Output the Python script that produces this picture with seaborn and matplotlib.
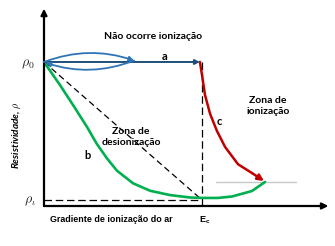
import matplotlib
matplotlib.use("Agg")
import matplotlib.pyplot as plt
import seaborn as sns
import pandas as pd

# ---- data (x: gradient, Ec = 1 ; y: resistivity, rho0 = 1) ----
rho0 = 1.0
rhoi = 0.042
Ec = 1.0
b_x = [0.0, 0.101, 0.184, 0.272, 0.335, 0.399, 0.462, 0.563, 0.671, 0.797, 0.924, 1.0,
       1.101, 1.19, 1.316, 1.399]
b_y = [1.0, 0.840, 0.701, 0.549, 0.430, 0.330, 0.245, 0.158, 0.106, 0.076, 0.059, 0.056,
       0.056, 0.066, 0.104, 0.167]
c_x = [0.987, 1.0, 1.019, 1.051, 1.095, 1.146, 1.228, 1.316, 1.392]
c_y = [1.0, 0.910, 0.771, 0.640, 0.520, 0.410, 0.290, 0.229, 0.174]
gray_x = [1.089, 1.595]
gray_y = [0.167, 0.167]
a_end = 0.987
loop_end = 0.57

sns.set_style("white")
plt.rcParams['font.family'] = ['Lato', 'DejaVu Sans']
plt.rcParams['mathtext.fontset'] = 'cm'
plt.rcParams['lines.solid_joinstyle'] = 'round'
plt.rcParams['lines.solid_capstyle'] = 'round'

fig = plt.figure(figsize=(3.35, 2.46), dpi=100)
ax = fig.add_axes([44/335, 40/246, 284.4/335, 197.3/246])
ax.set_xlim(0, 1.8)
ax.set_ylim(0, 1.37)
for s in ax.spines.values():
    s.set_visible(False)
ax.set_xticks([])
ax.set_yticks([])

# axes arrows
ax.annotate("", xy=(1.8, 0), xytext=(0, 0), xycoords='data',
            arrowprops=dict(arrowstyle='-|>', color='black', lw=1.6,
                            mutation_scale=9, shrinkA=0, shrinkB=0),
            annotation_clip=False)
ax.annotate("", xy=(0, 1.37), xytext=(0, 0), xycoords='data',
            arrowprops=dict(arrowstyle='-|>', color='black', lw=1.6,
                            mutation_scale=9, shrinkA=0, shrinkB=0),
            annotation_clip=False)

# dashed guides
ax.plot([0, Ec], [rho0, rhoi], ls=(0, (5, 3)), color='black', lw=0.9)
ax.plot([Ec, Ec], [rho0, 0], ls=(0, (6, 3)), color='black', lw=0.9)
ax.plot([0, Ec], [rhoi, rhoi], ls=(0, (6, 3)), color='black', lw=0.9)

# gray line
sns.lineplot(x=gray_x, y=gray_y, ax=ax, color='#C8C8C8', lw=1.0, sort=False)

# curve b (green)
sns.lineplot(data=pd.DataFrame({'x': b_x, 'y': b_y}), x='x', y='y', ax=ax,
             color='#00B050', lw=1.9, sort=False)

# curve c (red)
sns.lineplot(data=pd.DataFrame({'x': c_x[:-1], 'y': c_y[:-1]}), x='x', y='y', ax=ax,
             color='#C00000', lw=1.8, sort=False)
ax.annotate("", xy=(c_x[-1], c_y[-1]), xytext=(c_x[-2], c_y[-2]),
            arrowprops=dict(arrowstyle='-|>', color='#C00000', lw=1.8,
                            mutation_scale=9, shrinkA=0, shrinkB=0))

# line a (blue)
ax.annotate("", xy=(a_end, rho0), xytext=(0, rho0),
            arrowprops=dict(arrowstyle='-|>', color='#1F4E79', lw=1.4,
                            mutation_scale=7, shrinkA=0, shrinkB=0))

# loop (ellipse with arrows)
ax.annotate("", xy=(loop_end, rho0 + 0.01), xytext=(0, rho0),
            arrowprops=dict(arrowstyle='-|>', color='#2E75B6', lw=1.3,
                            mutation_scale=7, shrinkA=0, shrinkB=0,
                            connectionstyle='arc3,rad=-0.18'))
ax.annotate("", xy=(0.01, rho0 - 0.005), xytext=(loop_end, rho0 + 0.01),
            arrowprops=dict(arrowstyle='-|>', color='#2E75B6', lw=1.3,
                            mutation_scale=7, shrinkA=0, shrinkB=0,
                            connectionstyle='arc3,rad=-0.18'))

# texts
bold = dict(fontweight='bold', color='black')
ax.text(0.69, 1.18, "Não ocorre ionização", ha='center', va='center', fontsize=7.5, **bold)
ax.text(0.76, 1.035, "a", ha='center', va='center', fontsize=8, **bold)
ax.text(1.418, 0.694, "Zona de\nionização", ha='center', va='center', fontsize=7.5,
        linespacing=1.25, **bold)
ax.text(1.11, 0.59, "c", ha='center', va='center', fontsize=8, **bold)
ax.text(0.55, 0.479, "Zona de\ndesionização", ha='center', va='center', fontsize=7.5,
        linespacing=1.25, **bold)
ax.text(0.278, 0.354, "b", ha='center', va='center', fontsize=8, **bold)
ax.text(0.424, -0.097, "Gradiente de ionização do ar", ha='center', va='center',
        fontsize=6.4, family=['Liberation Sans', 'DejaVu Sans'], **bold)
ax.text(1.02, -0.097, r"E$_\mathregular{c}$", ha='center', va='center',
        fontsize=6.6, family=['Liberation Sans', 'DejaVu Sans'], **bold)
ax.text(-0.10, 0.986, r"$\rho_0$", ha='center', va='center', fontsize=10)
ax.text(-0.09, 0.035, r"$\rho_\iota$", ha='center', va='center', fontsize=10)
ax.text(-0.17, 0.49, r"Resistividade, $\rho$", ha='center', va='center', rotation=90,
        fontsize=7.2, fontstyle='italic', **bold)

fig.savefig("out.png", dpi=100)
